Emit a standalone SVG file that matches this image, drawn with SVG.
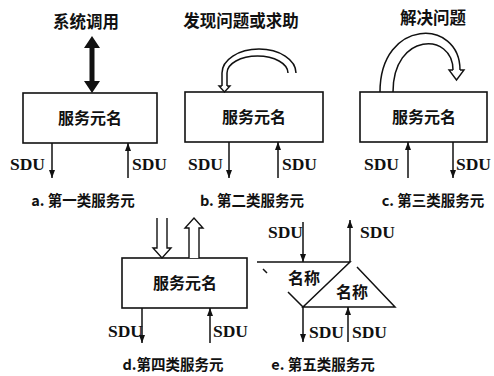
<svg xmlns="http://www.w3.org/2000/svg" width="494" height="376" viewBox="0 0 494 376">
<defs>
<marker id="arr" viewBox="0 0 8 6" refX="8" refY="3" markerWidth="8" markerHeight="6" markerUnits="userSpaceOnUse" orient="auto">
<path d="M0,0 L8,3 L0,6 z" fill="#111"/>
</marker>
<style>
.box{fill:#fff;stroke:#111;stroke-width:1.6}
.ln{fill:none;stroke:#111;stroke-width:1.5}
.hol{fill:#fff;stroke:#111;stroke-width:1.4;stroke-linejoin:miter}
.cn{font-family:"Noto Sans CJK SC","Noto Sans CJK JP",sans-serif;font-weight:bold;fill:#111;text-anchor:middle}
.t{font-size:16.5px}
.nm{font-size:16px}
.cap{font-size:14.5px}
.sdu{font-family:"Liberation Serif",serif;font-weight:bold;font-size:17.5px;fill:#111}
</style>
</defs>
<rect width="494" height="376" fill="#fff"/>

<g id="node-a">
<text class="cn t" x="86" y="28">系统调用</text>
<rect class="box" x="23" y="93" width="134" height="50"/>
<text class="cn nm" x="90" y="124">服务元名</text>
<text class="sdu" x="10" y="170">SDU</text>
<text class="sdu" x="132" y="170">SDU</text>
<text class="cn cap" x="83" y="206">a. 第一类服务元</text>
</g>

<g id="node-b">
<text class="cn t" x="241" y="27">发现问题或求助</text>
<rect class="box" x="185" y="92" width="138" height="50"/>
<text class="cn nm" x="254" y="123">服务元名</text>
<text class="sdu" x="188" y="170">SDU</text>
<text class="sdu" x="282" y="170">SDU</text>
<text class="cn cap" x="252" y="206">b. 第二类服务元</text>
</g>

<g id="node-c">
<text class="cn t" x="433" y="24">解决问题</text>
<rect class="box" x="360" y="92" width="127" height="50"/>
<text class="cn nm" x="424" y="123">服务元名</text>
<text class="sdu" x="364" y="170">SDU</text>
<text class="sdu" x="456" y="170">SDU</text>
<text class="cn cap" x="433" y="206">c. 第三类服务元</text>
</g>

<g id="node-d">
<rect class="box" x="122" y="258" width="125" height="50"/>
<text class="cn nm" x="185" y="289">服务元名</text>
<text class="sdu" x="108" y="337">SDU</text>
<text class="sdu" x="213" y="337">SDU</text>
<text class="cn cap" x="173" y="370">d.第四类服务元</text>
</g>

<g id="node-e">
<path class="ln" d="M257,262 L350,262 L303,307 L395,307 L357,267"/>
<path class="ln" d="M263,269 L267,273 M288,292 L303,307"/>
<text class="cn nm" x="304" y="284">名称</text>
<text class="cn nm" x="352" y="298">名称</text>
<text class="sdu" x="268" y="238">SDU</text>
<text class="sdu" x="360" y="238">SDU</text>
<text class="sdu" x="309" y="338">SDU</text>
<text class="sdu" x="352" y="338">SDU</text>
<text class="cn cap" x="323" y="370">e. 第五类服务元</text>
</g>

<g id="connectors">
<!-- a -->
<path d="M92,36 L100,48 L94.5,48 L94.5,81 L100,81 L92,93 L84,81 L89.5,81 L89.5,48 L84,48 z" fill="#111"/>
<line class="ln" x1="52" y1="143" x2="52" y2="178" marker-end="url(#arr)"/>
<line class="ln" x1="128" y1="178" x2="128" y2="143" marker-end="url(#arr)"/>
<!-- b -->
<path class="ln" d="M222,87 L222,73 A37,24 0 0 1 296,73"/>
<path class="ln" d="M227,87 L227,73 A30.5,17 0 0 1 288,73"/>
<path class="hol" d="M222,86 L219,86 L224.5,92 L230,86 L227,86"/>
<line class="ln" x1="229" y1="142" x2="229" y2="178" marker-end="url(#arr)"/>
<line class="ln" x1="278" y1="178" x2="278" y2="142" marker-end="url(#arr)"/>
<!-- c -->
<path class="ln" d="M380,92 C380,18 460,18 460,70"/>
<path class="ln" d="M393,92 C393,32 453,32 453,70"/>
<path class="hol" d="M453,70 L449,70 L456.5,80 L464,70 L460,70"/>
<line class="ln" x1="408" y1="178" x2="408" y2="142" marker-end="url(#arr)"/>
<line class="ln" x1="453" y1="142" x2="453" y2="178" marker-end="url(#arr)"/>
<!-- d -->
<path class="hol" d="M157,218 L157,248 L153,248 L162,258 L171,248 L167,248 L167,218"/>
<path class="hol" d="M189,258 L189,228 L185,228 L194,218 L203,228 L199,228 L199,258"/>
<line class="ln" x1="142" y1="308" x2="142" y2="343" marker-end="url(#arr)"/>
<line class="ln" x1="210" y1="343" x2="210" y2="308" marker-end="url(#arr)"/>
<!-- e -->
<line class="ln" x1="303" y1="222" x2="303" y2="262" marker-end="url(#arr)"/>
<line class="ln" x1="350" y1="262" x2="350" y2="220" marker-end="url(#arr)"/>
<line class="ln" x1="303" y1="307" x2="303" y2="342" marker-end="url(#arr)"/>
<line class="ln" x1="348" y1="342" x2="348" y2="307" marker-end="url(#arr)"/>
</g>
</svg>
